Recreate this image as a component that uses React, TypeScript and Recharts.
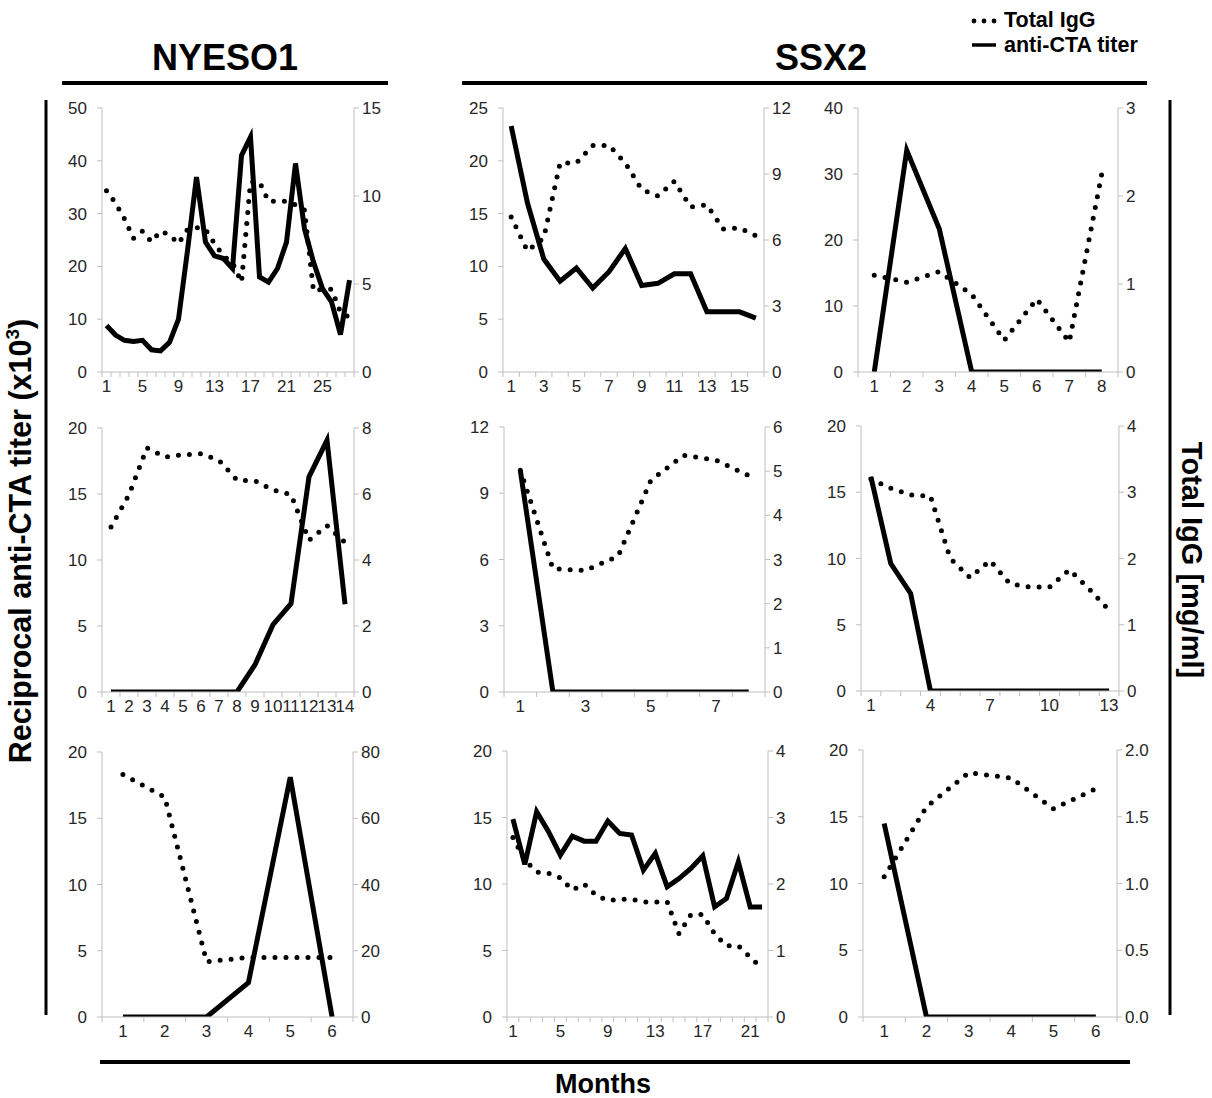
import React from "react";
import { LineChart, Line, XAxis, YAxis } from "recharts";

const AXIS = "#bfbfbf";
const TXT = "#262626";
const FONT = "'Liberation Sans', Arial, Helvetica, sans-serif";

// ---- NYESO1 patients ----
const ny1Titer = [8.8, 7.0, 6.0, 5.8, 6.0, 4.2, 4.0, 5.6, 10, 23, 36.9, 24.6, 22, 21.5, 19.6, 41, 44.5, 18, 17, 19.6, 24.6, 39.5, 27.1, 20.8, 15.8, 13.3, 7.1, 17.4];
const ny1IgG = [10.3, 9.6, 8.7, 7.6, 8.0, 7.4, 8.0, 7.8, 7.3, 8.1, 8.2, 8.1, 7.3, 6.6, 6.2, 5.1, 10.8, 10.8, 9.7, 9.7, 9.7, 9.5, 9.2, 4.6, 4.7, 4.7, 3.4, 3.1];
const ny1XLabels = [1, 5, 9, 13, 17, 21, 25];

const ny2Titer = [0, 0, 0, 0, 0, 0, 0, 0, 2.07, 5.1, 6.7, 16.3, 19.07, 6.65];
const ny2IgG = [5.0, 5.98, 7.4, 7.12, 7.19, 7.22, 7.02, 6.42, 6.4, 6.12, 5.98, 4.6, 5.04, 4.53];
const ny2XLabels = [1, 2, 3, 4, 5, 6, 7, 8, 9, 10, 11, 12, 13, 14];

const ny3Titer = [0, 0, 0, 2.59, 18.1, 0];
const ny3IgG = [73.2, 66.4, 16.7, 18, 18, 18];
const ny3XLabels = [1, 2, 3, 4, 5, 6];

// ---- SSX2 patients ----
const ssxATiter = [23.3, 16, 10.7, 8.6, 9.85, 7.95, 9.5, 11.7, 8.2, 8.4, 9.3, 9.3, 5.7, 5.7, 5.7, 5.1];
const ssxAIgG = [7.05, 5.5, 6.1, 9.5, 9.5, 10.3, 10.3, 9.5, 8.3, 8.0, 8.67, 7.5, 7.6, 6.5, 6.55, 6.2];
const ssxAXLabels = [1, 3, 5, 7, 9, 11, 13, 15];

const ssxBTiter = [0, 33.6, 21.7, 0, 0, 0, 0, 0];
const ssxBIgG = [1.1, 1.02, 1.14, 0.88, 0.36, 0.83, 0.34, 2.25];
const ssxBXLabels = [1, 2, 3, 4, 5, 6, 7, 8];

const ssxCTiter = [10.04, 0, 0, 0, 0, 0, 0, 0];
const ssxCIgG = [5.02, 2.79, 2.75, 3.08, 4.79, 5.36, 5.25, 4.9];
const ssxCXLabels = [1, 3, 5, 7];

const ssxDTiter = [16.16, 9.62, 7.36, 0, 0, 0, 0, 0, 0, 0, 0, 0, 0];
const ssxDIgG = [3.2, 3.06, 2.96, 2.94, 2.0, 1.71, 1.97, 1.62, 1.57, 1.57, 1.83, 1.54, 1.22];
const ssxDXLabels = [1, 4, 7, 10, 13];

const ssxETiter = [14.88, 11.47, 15.43, 13.93, 12.17, 13.6, 13.22, 13.22, 14.73, 13.8, 13.68, 11.04, 12.3, 9.79, 10.41, 11.17, 12.12, 8.28, 8.91, 11.67, 8.28, 8.28];
const ssxEIgG = [2.7, 2.36, 2.18, 2.16, 2.09, 1.91, 2.0, 1.83, 1.75, 1.77, 1.77, 1.73, 1.73, 1.73, 1.25, 1.54, 1.54, 1.25, 1.07, 1.07, 0.9, 0.73];
const ssxEXLabels = [1, 5, 9, 13, 17, 21];

const ssxFTiter = [14.5, 0, 0, 0, 0, 0];
const ssxFIgG = [1.05, 1.575, 1.83, 1.79, 1.56, 1.71];
const ssxFXLabels = [1, 2, 3, 4, 5, 6];

// axis ticks
const ticks0to50 = [0, 10, 20, 30, 40, 50];
const ticks0to40 = [0, 10, 20, 30, 40];
const ticks0to25 = [0, 5, 10, 15, 20, 25];
const ticks0to20 = [0, 5, 10, 15, 20];
const ticks0to12by3 = [0, 3, 6, 9, 12];
const ticks0to15by5 = [0, 5, 10, 15];
const ticks0to3 = [0, 1, 2, 3];
const ticks0to8by2 = [0, 2, 4, 6, 8];
const ticks0to6 = [0, 1, 2, 3, 4, 5, 6];
const ticks0to4 = [0, 1, 2, 3, 4];
const ticks0to80 = [0, 20, 40, 60, 80];
const ticks0to2 = [0, 0.5, 1, 1.5, 2];

type PanelDef = {
  titer: number[];
  igg: number[];
  xLabels: number[];
  leftTicks: number[];
  rightTicks: number[];
  rightFmt?: (v: number) => string;
  // plot area: left, top, width, height
  box: [number, number, number, number];
};

const panels: PanelDef[] = [
  { titer: ny1Titer, igg: ny1IgG, xLabels: ny1XLabels, leftTicks: ticks0to50, rightTicks: ticks0to15by5, box: [102, 108, 252, 264] },
  { titer: ssxATiter, igg: ssxAIgG, xLabels: ssxAXLabels, leftTicks: ticks0to25, rightTicks: ticks0to12by3, box: [503, 108, 261, 264] },
  { titer: ssxBTiter, igg: ssxBIgG, xLabels: ssxBXLabels, leftTicks: ticks0to40, rightTicks: ticks0to3, box: [858, 108, 260, 264] },
  { titer: ny2Titer, igg: ny2IgG, xLabels: ny2XLabels, leftTicks: ticks0to20, rightTicks: ticks0to8by2, box: [102, 428, 252, 264] },
  { titer: ssxCTiter, igg: ssxCIgG, xLabels: ssxCXLabels, leftTicks: ticks0to12by3, rightTicks: ticks0to6, box: [504, 427, 261, 265] },
  { titer: ssxDTiter, igg: ssxDIgG, xLabels: ssxDXLabels, leftTicks: ticks0to20, rightTicks: ticks0to4, box: [861, 426, 258, 265] },
  { titer: ny3Titer, igg: ny3IgG, xLabels: ny3XLabels, leftTicks: ticks0to20, rightTicks: ticks0to80, box: [102, 752, 251, 265] },
  { titer: ssxETiter, igg: ssxEIgG, xLabels: ssxEXLabels, leftTicks: ticks0to20, rightTicks: ticks0to4, box: [507, 751, 261, 266] },
  { titer: ssxFTiter, igg: ssxFIgG, xLabels: ssxFXLabels, leftTicks: ticks0to20, rightTicks: ticks0to2, rightFmt: (v) => v.toFixed(1), box: [863, 750, 254, 267] },
];

const TICK_FS = 17;

// x ticks: half-integers draw the little tick marks, integers draw the month label
const XTick = ({ x, y, payload }: any) => {
  const v = payload.value;
  if (!Number.isInteger(v)) {
    return <line x1={x} x2={x} y1={y} y2={y + 5} stroke={AXIS} strokeWidth={1} />;
  }
  return (
    <text x={x} y={y + 20} textAnchor="middle" fontSize={TICK_FS} fill={TXT}>
      {v}
    </text>
  );
};

const LW = 60;
const RW = 50;
const TOPM = 10;
const XH = 30;

function Panel({ p }: { p: PanelDef }) {
  const [left, top, w, h] = p.box;
  const n = p.titer.length;
  const data = p.titer.map((t, i) => ({ m: i + 1, titer: t, igg: p.igg[i] }));
  const bounds = p.titer.map((_, i) => i + 0.5).concat([n + 0.5]);
  const xTicks = [...bounds, ...p.xLabels].sort((a, b) => a - b);
  const lMax = p.leftTicks[p.leftTicks.length - 1];
  const rMax = p.rightTicks[p.rightTicks.length - 1];
  return (
    <div style={{ position: "absolute", left: left - LW, top: top - TOPM }}>
      <LineChart
        width={LW + w + RW}
        height={TOPM + h + XH}
        data={data}
        margin={{ top: TOPM, right: 0, bottom: 0, left: 0 }}
      >
        <XAxis
          dataKey="m"
          type="number"
          domain={[0.5, n + 0.5]}
          ticks={xTicks}
          interval={0}
          tickSize={0}
          tickMargin={0}
          height={XH}
          axisLine={{ stroke: AXIS }}
          tickLine={false}
          tick={<XTick />}
          allowDataOverflow
        />
        <YAxis
          yAxisId="l"
          width={LW}
          domain={[0, lMax]}
          ticks={p.leftTicks}
          interval={0}
          tickSize={5}
          tickMargin={10}
          tick={{ fontSize: TICK_FS, fill: TXT }}
          axisLine={{ stroke: AXIS }}
          tickLine={{ stroke: AXIS }}
          allowDataOverflow
        />
        <YAxis
          yAxisId="r"
          orientation="right"
          width={RW}
          domain={[0, rMax]}
          ticks={p.rightTicks}
          interval={0}
          tickSize={5}
          tickMargin={3}
          tick={{ fontSize: TICK_FS, fill: TXT }}
          tickFormatter={p.rightFmt}
          axisLine={{ stroke: AXIS }}
          tickLine={{ stroke: AXIS }}
          allowDataOverflow
        />
        <Line
          yAxisId="r"
          dataKey="igg"
          type="linear"
          stroke="#000"
          strokeWidth={5}
          strokeDasharray="0 11"
          strokeLinecap="round"
          dot={false}
          isAnimationActive={false}
        />
        <Line
          yAxisId="l"
          dataKey="titer"
          type="linear"
          stroke="#000"
          strokeWidth={5}
          dot={false}
          isAnimationActive={false}
        />
      </LineChart>
    </div>
  );
}

export default function App() {
  return (
    <div
      style={{
        position: "absolute",
        left: 0,
        top: 0,
        width: 1212,
        height: 1098,
        background: "#fff",
        fontFamily: FONT,
        overflow: "hidden",
      }}
    >
      <svg width={1212} height={1098} style={{ position: "absolute", left: 0, top: 0 }}>
        {/* group headers */}
        <text x={225} y={70} textAnchor="middle" fontSize={36} fontWeight="bold" fill="#000">NYESO1</text>
        <line x1={62} x2={388} y1={83} y2={83} stroke="#000" strokeWidth={4} />
        <text x={821} y={70} textAnchor="middle" fontSize={36} fontWeight="bold" fill="#000">SSX2</text>
        <line x1={462} x2={1147} y1={83} y2={83} stroke="#000" strokeWidth={4} />

        {/* legend */}
        <circle cx={974} cy={21} r={2.4} fill="#000" />
        <circle cx={984} cy={21} r={2.4} fill="#000" />
        <circle cx={994} cy={21} r={2.4} fill="#000" />
        <text x={1004} y={27} fontSize={21.5} fontWeight="bold" fill="#000">Total IgG</text>
        <line x1={972} x2={996} y1={45} y2={45} stroke="#000" strokeWidth={3.5} />
        <text x={1004} y={52} fontSize={21.5} fontWeight="bold" fill="#000">anti-CTA titer</text>

        {/* side bars and axis titles */}
        <line x1={46} x2={46} y1={100} y2={1015} stroke="#000" strokeWidth={3} />
        <line x1={1170} x2={1170} y1={100} y2={1015} stroke="#000" strokeWidth={3} />
        <text transform="translate(31,541) rotate(-90)" textAnchor="middle" fontSize={30.5} fontWeight="bold" fill="#000">
          Reciprocal anti-CTA titer (x10<tspan fontSize={19} dy={-12}>3</tspan><tspan dy={12}>)</tspan>
        </text>
        <text transform="translate(1182,560) rotate(90)" textAnchor="middle" fontSize={29} fontWeight="bold" fill="#000">
          Total IgG [mg/ml]
        </text>

        {/* bottom */}
        <line x1={100} x2={1130} y1={1062} y2={1062} stroke="#000" strokeWidth={4} />
        <text x={603} y={1093} textAnchor="middle" fontSize={27} fontWeight="bold" fill="#000">Months</text>
      </svg>
      {panels.map((p, i) => (
        <Panel key={i} p={p} />
      ))}
    </div>
  );
}
